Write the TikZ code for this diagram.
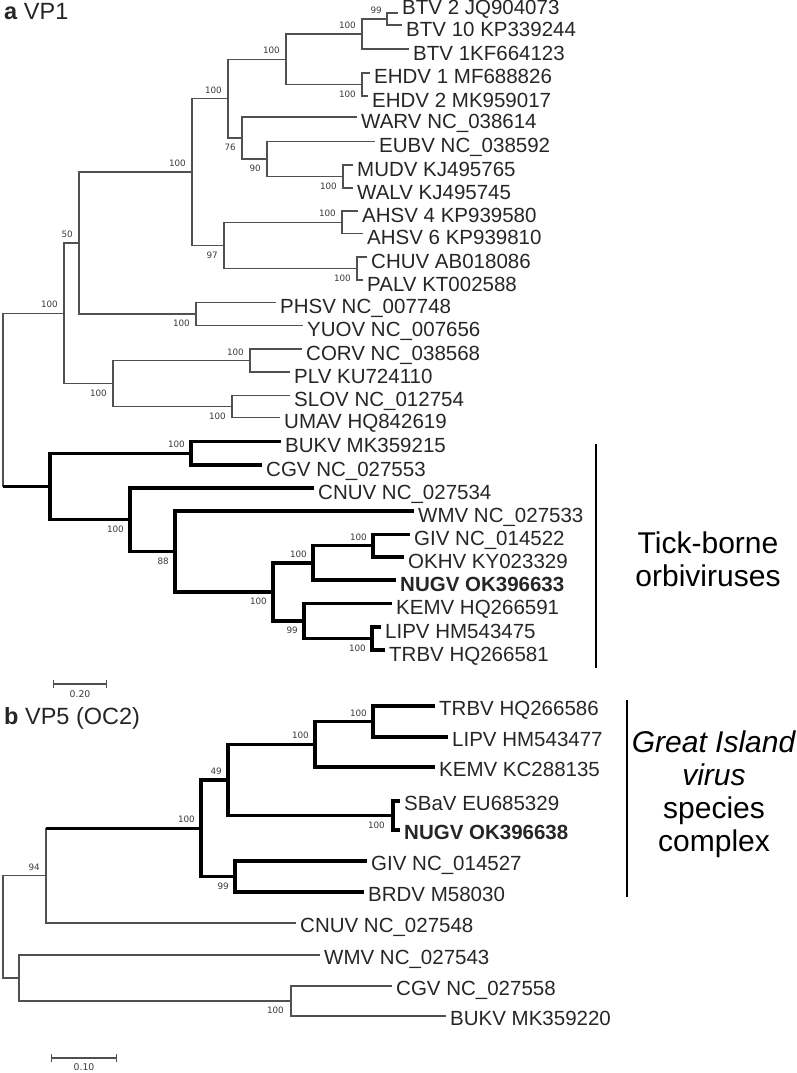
\documentclass[tikz,border=0pt]{standalone}
\usepackage{fontspec}
\setmainfont{Liberation Sans}
\newfontfamily\bootfont{DejaVu Sans}
\usepackage{xcolor}
\usepackage{tikz}
\usetikzlibrary{arrows.meta}
\usetikzlibrary{positioning}
\definecolor{treegray}{HTML}{505050}
\definecolor{bootgray}{HTML}{3A3A3A}
\definecolor{labgray}{HTML}{262626}
\tikzset{
    branch/.style = {draw=treegray, line width=1.3pt},
    thick_branch/.style = {draw=black, line width=3.2pt},
    leaf/.style = {anchor=base west, inner sep=0pt, xshift=4pt, yshift=-11pt, text=labgray, font=\fontsize{20.5}{24}\selectfont},
    b_leaf/.style = {leaf, yshift=2pt},
    boot/.style = {inner sep=0pt, text=bootgray, font=\bootfont\fontsize{8.8}{10}\selectfont},
    bar_text/.style = {boot, anchor=north, font=\bootfont\fontsize{9.3}{11}\selectfont},
    title/.style = {anchor=base west, inner sep=0pt, text=labgray, font=\fontsize{23.5}{27}\selectfont},
    clade/.style = {align=center, inner sep=0pt, text=black, font=\fontsize{30}{33}\selectfont},
    bracket/.style = {draw=black, line width=1.6pt},
    scale_bar/.style = {draw=treegray, line width=1.2pt, {Bar[width=8pt]}-{Bar[width=8pt]}}
}
\begin{document}
\begin{tikzpicture}[x=1pt, y=-1pt]
\useasboundingbox (0,0) rectangle (796,1073);

% panel a
\node[title] (a_title) at (4,20) {\textbf{a} VP1};

\coordinate (a_btv2) at (398,13);
\coordinate (a_btv10) at (402,25);
\coordinate (a_btv1) at (409,49);
\coordinate (a_ehdv1) at (370,73);
\coordinate (a_ehdv2) at (368,96);
\coordinate (a_warv) at (357,117);
\coordinate (a_eubv) at (375,141.5);
\coordinate (a_mudv) at (353,165);
\coordinate (a_walv) at (353,188);
\coordinate (a_ahsv4) at (358,211);
\coordinate (a_ahsv6) at (363,233.5);
\coordinate (a_chuv) at (367,257);
\coordinate (a_palv) at (363,280);
\coordinate (a_phsv) at (276,302.5);
\coordinate (a_yuov) at (303,325.5);
\coordinate (a_corv) at (302,349);
\coordinate (a_plv) at (290,372);
\coordinate (a_slov) at (290,395.5);
\coordinate (a_umav) at (280,417.5);
\coordinate (a_bukv) at (281,441.5);
\coordinate (a_cgv) at (262,465);
\coordinate (a_cnuv) at (314,488);
\coordinate (a_wmv) at (414,511);
\coordinate (a_giv) at (410,534.5);
\coordinate (a_okhv) at (404,557);
\coordinate (a_nugv) at (396,580);
\coordinate (a_kemv) at (392,603.5);
\coordinate (a_lipv) at (381,627);
\coordinate (a_trbv) at (385,650);

\coordinate (a_n99) at (387,19);
\coordinate (a_nbtv) at (362,34);
\coordinate (a_nehdv) at (362,84.5);
\coordinate (a_nbe) at (286,59.25);
\coordinate (a_nwalv) at (343,176.5);
\coordinate (a_neubv) at (267,159);
\coordinate (a_nwarv) at (242,138);
\coordinate (a_nbtw) at (228,98.6);
\coordinate (a_nahsv) at (342,222.25);
\coordinate (a_nchuv) at (357,268.5);
\coordinate (a_nach) at (224,245.4);
\coordinate (a_nmid) at (192,172);
\coordinate (a_nphsv) at (196,314);
\coordinate (a_n50) at (79,243);
\coordinate (a_ncorv) at (250,360.5);
\coordinate (a_nslov) at (232,406.5);
\coordinate (a_ncs) at (113,383.5);
\coordinate (a_nup) at (64,313.25);
\coordinate (a_nbc) at (191,453.25);
\coordinate (a_ngiv) at (373,545.75);
\coordinate (a_ngn) at (313,562.9);
\coordinate (a_nlt) at (372,638.5);
\coordinate (a_nklt) at (304,621);
\coordinate (a_ngk) at (273,592);
\coordinate (a_n88) at (175,551.5);
\coordinate (a_ncw) at (130,519.75);
\coordinate (a_ntick) at (50,486.5);
\coordinate (a_root) at (3,400);

\draw[branch] (a_n99) |- (a_btv2) (a_n99) |- (a_btv10);
\draw[branch] (a_nbtv) |- (a_n99) (a_nbtv) |- (a_btv1);
\draw[branch] (a_nehdv) |- (a_ehdv1) (a_nehdv) |- (a_ehdv2);
\draw[branch] (a_nbe) |- (a_nbtv) (a_nbe) |- (a_nehdv);
\draw[branch] (a_nwalv) |- (a_mudv) (a_nwalv) |- (a_walv);
\draw[branch] (a_neubv) |- (a_eubv) (a_neubv) |- (a_nwalv);
\draw[branch] (a_nwarv) |- (a_warv) (a_nwarv) |- (a_neubv);
\draw[branch] (a_nbtw) |- (a_nbe) (a_nbtw) |- (a_nwarv);
\draw[branch] (a_nahsv) |- (a_ahsv4) (a_nahsv) |- (a_ahsv6);
\draw[branch] (a_nchuv) |- (a_chuv) (a_nchuv) |- (a_palv);
\draw[branch] (a_nach) |- (a_nahsv) (a_nach) |- (a_nchuv);
\draw[branch] (a_nmid) |- (a_nbtw) (a_nmid) |- (a_nach);
\draw[branch] (a_nphsv) |- (a_phsv) (a_nphsv) |- (a_yuov);
\draw[branch] (a_n50) |- (a_nmid) (a_n50) |- (a_nphsv);
\draw[branch] (a_ncorv) |- (a_corv) (a_ncorv) |- (a_plv);
\draw[branch] (a_nslov) |- (a_slov) (a_nslov) |- (a_umav);
\draw[branch] (a_ncs) |- (a_ncorv) (a_ncs) |- (a_nslov);
\draw[branch] (a_nup) |- (a_n50) (a_nup) |- (a_ncs);
\draw[branch] (a_root) |- (a_nup) (a_root) -- (a_root |- a_ntick);
\draw[thick_branch] (a_root |- a_ntick) -- (a_ntick);
\draw[thick_branch] (a_ntick) |- (a_nbc) (a_ntick) |- (a_ncw);
\draw[thick_branch] (a_nbc) |- (a_bukv) (a_nbc) |- (a_cgv);
\draw[thick_branch] (a_ncw) |- (a_cnuv) (a_ncw) |- (a_n88);
\draw[thick_branch] (a_n88) |- (a_wmv) (a_n88) |- (a_ngk);
\draw[thick_branch] (a_ngk) |- (a_ngn) (a_ngk) |- (a_nklt);
\draw[thick_branch] (a_ngn) |- (a_ngiv) (a_ngn) |- (a_nugv);
\draw[thick_branch] (a_ngiv) |- (a_giv) (a_ngiv) |- (a_okhv);
\draw[thick_branch] (a_nklt) |- (a_kemv) (a_nklt) |- (a_nlt);
\draw[thick_branch] (a_nlt) |- (a_lipv) (a_nlt) |- (a_trbv);

\node[leaf, yshift=9pt] (a_btv2_l) at (a_btv2) {BTV 2 JQ904073};
\node[leaf, yshift=-1pt] (a_btv10_l) at (a_btv10) {BTV 10 KP339244};
\node[leaf] (a_btv1_l) at (a_btv1) {BTV 1KF664123};
\node[leaf] (a_ehdv1_l) at (a_ehdv1) {EHDV 1 MF688826};
\node[leaf] (a_ehdv2_l) at (a_ehdv2) {EHDV 2 MK959017};
\node[leaf] (a_warv_l) at (a_warv) {WARV NC\_038614};
\node[leaf] (a_eubv_l) at (a_eubv) {EUBV NC\_038592};
\node[leaf] (a_mudv_l) at (a_mudv) {MUDV KJ495765};
\node[leaf] (a_walv_l) at (a_walv) {WALV KJ495745};
\node[leaf] (a_ahsv4_l) at (a_ahsv4) {AHSV 4 KP939580};
\node[leaf] (a_ahsv6_l) at (a_ahsv6) {AHSV 6 KP939810};
\node[leaf] (a_chuv_l) at (a_chuv) {CHUV AB018086};
\node[leaf] (a_palv_l) at (a_palv) {PALV KT002588};
\node[leaf] (a_phsv_l) at (a_phsv) {PHSV NC\_007748};
\node[leaf] (a_yuov_l) at (a_yuov) {YUOV NC\_007656};
\node[leaf] (a_corv_l) at (a_corv) {CORV NC\_038568};
\node[leaf] (a_plv_l) at (a_plv) {PLV KU724110};
\node[leaf] (a_slov_l) at (a_slov) {SLOV NC\_012754};
\node[leaf] (a_umav_l) at (a_umav) {UMAV HQ842619};
\node[leaf] (a_bukv_l) at (a_bukv) {BUKV MK359215};
\node[leaf] (a_cgv_l) at (a_cgv) {CGV NC\_027553};
\node[leaf] (a_cnuv_l) at (a_cnuv) {CNUV NC\_027534};
\node[leaf] (a_wmv_l) at (a_wmv) {WMV NC\_027533};
\node[leaf] (a_giv_l) at (a_giv) {GIV NC\_014522};
\node[leaf] (a_okhv_l) at (a_okhv) {OKHV KY023329};
\node[leaf] (a_nugv_l) at (a_nugv) {\textbf{NUGV OK396633}};
\node[leaf] (a_kemv_l) at (a_kemv) {KEMV HQ266591};
\node[leaf] (a_lipv_l) at (a_lipv) {LIPV HM543475};
\node[leaf] (a_trbv_l) at (a_trbv) {TRBV HQ266581};

\node[boot, above left=5pt and 5pt of a_n99] (a_n99_bs) {99};
\node[boot, above left=5pt and 6pt of a_nbtv] (a_nbtv_bs) {100};
\node[boot, below left=6pt and 6pt of a_nehdv] (a_nehdv_bs) {100};
\node[boot, above left=5pt and 6pt of a_nbe] (a_nbe_bs) {100};
\node[boot, below left=6pt and 6pt of a_nwalv] (a_nwalv_bs) {100};
\node[boot, below left=6pt and 6pt of a_neubv] (a_neubv_bs) {90};
\node[boot, below left=6pt and 6pt of a_nwarv] (a_nwarv_bs) {76};
\node[boot, above left=5pt and 6pt of a_nbtw] (a_nbtw_bs) {100};
\node[boot, above left=5pt and 6pt of a_nahsv] (a_nahsv_bs) {100};
\node[boot, below left=6pt and 6pt of a_nchuv] (a_nchuv_bs) {100};
\node[boot, below left=6pt and 6pt of a_nach] (a_nach_bs) {97};
\node[boot, above left=5pt and 6pt of a_nmid] (a_nmid_bs) {100};
\node[boot, below left=6pt and 6pt of a_nphsv] (a_nphsv_bs) {100};
\node[boot, above left=5pt and 6pt of a_n50] (a_n50_bs) {50};
\node[boot, above left=5pt and 6pt of a_ncorv] (a_ncorv_bs) {100};
\node[boot, below left=6pt and 6pt of a_nslov] (a_nslov_bs) {100};
\node[boot, below left=6pt and 6pt of a_ncs] (a_ncs_bs) {100};
\node[boot, above left=5pt and 6pt of a_nup] (a_nup_bs) {100};
\node[boot, above left=5pt and 6pt of a_nbc] (a_nbc_bs) {100};
\node[boot, below left=6pt and 6pt of a_ncw] (a_ncw_bs) {100};
\node[boot, below left=6pt and 6pt of a_n88] (a_n88_bs) {88};
\node[boot, below left=6pt and 6pt of a_ngk] (a_ngk_bs) {100};
\node[boot, above left=5pt and 6pt of a_ngn] (a_ngn_bs) {100};
\node[boot, above left=5pt and 6pt of a_ngiv] (a_ngiv_bs) {100};
\node[boot, below left=6pt and 6pt of a_nklt] (a_nklt_bs) {99};
\node[boot, below left=6pt and 6pt of a_nlt] (a_nlt_bs) {100};

\coordinate (a_br1) at (596,444);
\coordinate (a_br2) at (596,668);
\draw[bracket] (a_br1) -- (a_br2);
\node[clade] (a_clade) at (708,559) {Tick-borne\\orbiviruses};

\coordinate (a_sb1) at (53,684);
\coordinate (a_sb2) at (107,684);
\draw[scale_bar] (a_sb1) -- (a_sb2);
\node[bar_text] (a_sb_txt) at (80,690) {0.20};

% panel b
\node[title] (b_title) at (4,724) {\textbf{b} VP5 (OC2)};

\coordinate (b_trbv) at (435,706);
\coordinate (b_lipv) at (448,737);
\coordinate (b_kemv) at (435,767);
\coordinate (b_sbav) at (400,801);
\coordinate (b_nugv) at (400,830);
\coordinate (b_giv) at (367,861);
\coordinate (b_brdv) at (364,892);
\coordinate (b_cnuv) at (296,923);
\coordinate (b_wmv) at (320,955);
\coordinate (b_cgv) at (392,986);
\coordinate (b_bukv) at (446,1016);

\coordinate (b_ntl) at (373,721.5);
\coordinate (b_nk) at (315,744.25);
\coordinate (b_nsn) at (393,815.5);
\coordinate (b_n49) at (228,779.9);
\coordinate (b_ngb) at (235,876.5);
\coordinate (b_ngi) at (201,828.2);
\coordinate (b_n94) at (46,875.6);
\coordinate (b_ncb) at (291,1001);
\coordinate (b_nw) at (19,978);
\coordinate (b_root) at (3,926.8);

\draw[branch] (b_root) |- (b_n94) (b_root) |- (b_nw);
\draw[branch] (b_n94) -- (b_n94 |- b_ngi) (b_n94) |- (b_cnuv);
\draw[branch] (b_nw) |- (b_wmv) (b_nw) |- (b_ncb);
\draw[branch] (b_ncb) |- (b_cgv) (b_ncb) |- (b_bukv);
\draw[thick_branch] (b_n94 |- b_ngi) -- (b_ngi);
\draw[thick_branch] (b_ngi) |- (b_n49) (b_ngi) |- (b_ngb);
\draw[thick_branch] (b_n49) |- (b_nk) (b_n49) |- (b_nsn);
\draw[thick_branch] (b_nk) |- (b_ntl) (b_nk) |- (b_kemv);
\draw[thick_branch] (b_ntl) |- (b_trbv) (b_ntl) |- (b_lipv);
\draw[thick_branch] (b_nsn) |- (b_sbav) (b_nsn) |- (b_nugv);
\draw[thick_branch] (b_ngb) |- (b_giv) (b_ngb) |- (b_brdv);

\node[b_leaf] (b_trbv_l) at (b_trbv) {TRBV HQ266586};
\node[b_leaf] (b_lipv_l) at (b_lipv) {LIPV HM543477};
\node[b_leaf] (b_kemv_l) at (b_kemv) {KEMV KC288135};
\node[b_leaf] (b_sbav_l) at (b_sbav) {SBaV EU685329};
\node[b_leaf] (b_nugv_l) at (b_nugv) {\textbf{NUGV OK396638}};
\node[b_leaf] (b_giv_l) at (b_giv) {GIV NC\_014527};
\node[b_leaf] (b_brdv_l) at (b_brdv) {BRDV M58030};
\node[b_leaf] (b_cnuv_l) at (b_cnuv) {CNUV NC\_027548};
\node[b_leaf] (b_wmv_l) at (b_wmv) {WMV NC\_027543};
\node[b_leaf] (b_cgv_l) at (b_cgv) {CGV NC\_027558};
\node[b_leaf] (b_bukv_l) at (b_bukv) {BUKV MK359220};

\node[boot, above left=5pt and 6pt of b_ntl] (b_ntl_bs) {100};
\node[boot, above left=5pt and 6pt of b_nk] (b_nk_bs) {100};
\node[boot, below left=6pt and 8pt of b_nsn] (b_nsn_bs) {100};
\node[boot, above left=5pt and 6pt of b_n49] (b_n49_bs) {49};
\node[boot, below left=6pt and 6pt of b_ngb] (b_ngb_bs) {99};
\node[boot, above left=5pt and 6pt of b_ngi] (b_ngi_bs) {100};
\node[boot, above left=5pt and 6pt of b_n94] (b_n94_bs) {94};
\node[boot, below left=6pt and 7pt of b_ncb] (b_ncb_bs) {100};

\coordinate (b_br1) at (627,700);
\coordinate (b_br2) at (627,897);
\draw[bracket] (b_br1) -- (b_br2);
\node[clade] (b_clade) at (714,794) {\textit{Great Island}\\\textit{virus}\\species\\complex};

\coordinate (b_sb1) at (51,1058);
\coordinate (b_sb2) at (117,1058);
\draw[scale_bar] (b_sb1) -- (b_sb2);
\node[bar_text] (b_sb_txt) at (84,1063) {0.10};
\end{tikzpicture}
\end{document}
